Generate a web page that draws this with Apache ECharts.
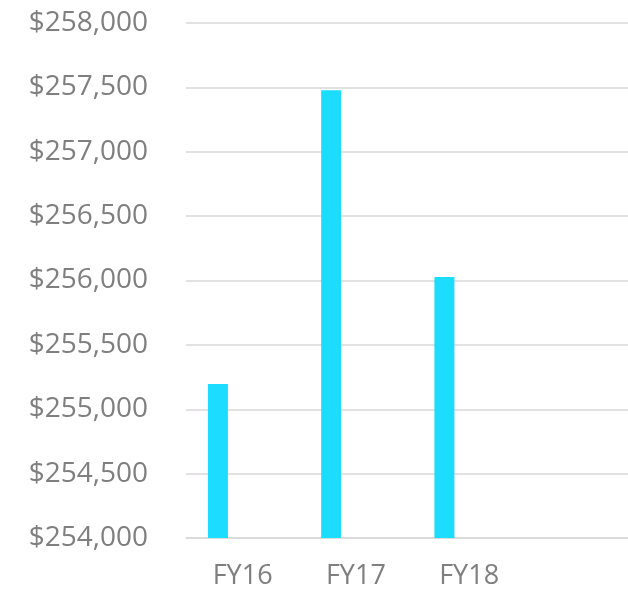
<!DOCTYPE html>
<html>
<head>
<meta charset="utf-8">
<script src="https://cdn.jsdelivr.net/npm/echarts@6/dist/echarts.min.js"></script>
<style>
  html, body { margin: 0; padding: 0; background: #fff; }
  #chart { width: 628px; height: 591px; }
</style>
</head>
<body>
<div id="chart"></div>
<script>
// fiscal year totals (the 4th slot is empty in the source chart)
const categories = ["FY16", "FY17", "FY18", ""];
const amounts = [255197, 257478, 256027, null];
const emptySeries = [null, null, null, null];

const chart = echarts.init(document.getElementById("chart"));

const fmt = (v) => "$" + v.toLocaleString("en-US");

chart.setOption({
  animation: false,
  grid: { left: 186, top: 23, width: 453, bottom: 53, outerBoundsMode: "none" },
  xAxis: {
    type: "category",
    data: categories,
    axisLine: { lineStyle: { color: "#d9d9d9", width: 1.5 } },
    axisTick: { show: false },
    axisLabel: {
      color: "#7f7f7f",
      fontSize: 27,
      fontFamily: "Open Sans",
      margin: 25,
    },
  },
  yAxis: {
    type: "value",
    min: 254000,
    max: 258000,
    interval: 500,
    axisLine: { show: false },
    axisTick: { show: false },
    splitLine: { lineStyle: { color: "#d9d9d9", width: 1.5 } },
    axisLabel: {
      color: "#7f7f7f",
      fontSize: 28,
      fontFamily: "Open Sans",
      margin: 38,
      formatter: fmt,
    },
  },
  series: [
    {
      type: "bar",
      data: amounts,
      barWidth: 20,
      barGap: "147%",
      itemStyle: { color: "#1cdcff" },
    },
    {
      type: "bar",
      data: emptySeries,
      barWidth: 20,
    },
  ],
});
</script>
</body>
</html>
